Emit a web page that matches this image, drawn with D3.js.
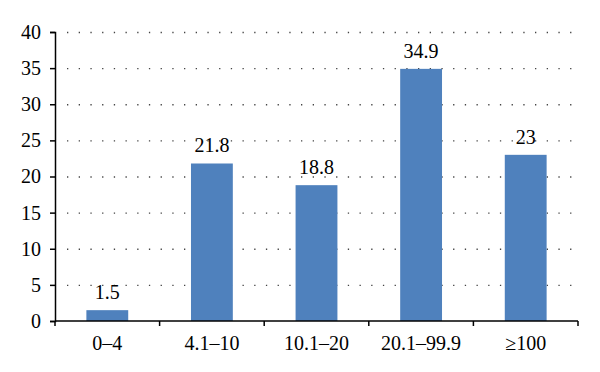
<!DOCTYPE html>
<html>
<head>
<meta charset="utf-8">
<script src="https://d3js.org/d3.v7.min.js"></script>
<style>
body{margin:0;background:#fff;}
text{font-family:"Liberation Serif","DejaVu Serif",serif;fill:#000;}
</style>
</head>
<body>
<script>
var categories = ["0\u20134", "4.1\u201310", "10.1\u201320", "20.1\u201399.9", "\u2265100"];//x categories
var values = [1.5, 21.8, 18.8, 34.9, 23];//bar heights
var yTicks = [0, 5, 10, 15, 20, 25, 30, 35, 40];//y tick labels

var margin = {top: 32, right: 22, bottom: 51, left: 55};
var width = 600 - margin.left - margin.right;
var height = 372 - margin.top - margin.bottom;

var svg = d3.select("body").append("svg")//canvas
    .attr("width", 600)
    .attr("height", 372)
    .append("g")
    .attr("transform", "translate(" + margin.left + "," + margin.top + ")");

var xScale = d3.scaleBand()
    .domain(categories)
    .range([0, width])
    .paddingInner(0.6)
    .paddingOuter(0.3);

var yScale = d3.scaleLinear()
    .domain([0, 40])
    .range([height, 0]);

// dotted grid lines
svg.selectAll(".grid")
    .data(yTicks.filter(function(d){ return d > 0; }))
    .enter().append("line")
    .attr("x1", 12)
    .attr("x2", width)
    .attr("y1", function(d){ return yScale(d) + 0.5; })
    .attr("y2", function(d){ return yScale(d) + 0.5; })
    .attr("stroke", "#444")
    .attr("stroke-width", 1.3)
    .attr("stroke-dasharray", "1.3,10.4");

// bars
svg.selectAll(".bar")
    .data(values)
    .enter().append("rect")
    .attr("x", function(d, i){ return xScale(categories[i]); })
    .attr("y", function(d){ return yScale(d); })
    .attr("width", xScale.bandwidth())
    .attr("height", function(d){ return height - yScale(d); })
    .attr("fill", "#4f81bd");

// value labels
svg.selectAll(".lbl")
    .data(values)
    .enter().append("text")
    .attr("x", function(d, i){ return xScale(categories[i]) + xScale.bandwidth() / 2; })
    .attr("y", function(d){ return yScale(d) - 11; })
    .attr("text-anchor", "middle")
    .style("font-size", "20px")
    .text(function(d){ return d; });

// y axis
var yAxis = d3.axisLeft(yScale).tickValues(yTicks).tickSize(5).tickPadding(9);
var gy = svg.append("g").call(yAxis);
gy.select(".domain").attr("stroke", "#000").attr("stroke-width", 1.5);
gy.selectAll("line").attr("stroke", "#000").attr("stroke-width", 1.5);
gy.selectAll("text").style("font-size", "20px").style("font-family", "Liberation Serif");

// x axis with ticks at category boundaries
var gx = svg.append("g").attr("transform", "translate(0," + height + ")");
gx.append("line")
    .attr("x1", 0).attr("x2", width)
    .attr("stroke", "#000").attr("stroke-width", 1.5);
var step = xScale.step();
gx.selectAll(".bt")
    .data(d3.range(categories.length + 1))
    .enter().append("line")
    .attr("x1", function(i){ return i * step; })
    .attr("x2", function(i){ return i * step; })
    .attr("y1", 0).attr("y2", 5)
    .attr("stroke", "#000").attr("stroke-width", 1.5);
gx.selectAll(".cl")
    .data(categories)
    .enter().append("text")
    .attr("x", function(d){ return xScale(d) + xScale.bandwidth() / 2; })
    .attr("y", 29)
    .attr("text-anchor", "middle")
    .style("font-size", "20px")
    .text(function(d){ return d; });
</script>
</body>
</html>
